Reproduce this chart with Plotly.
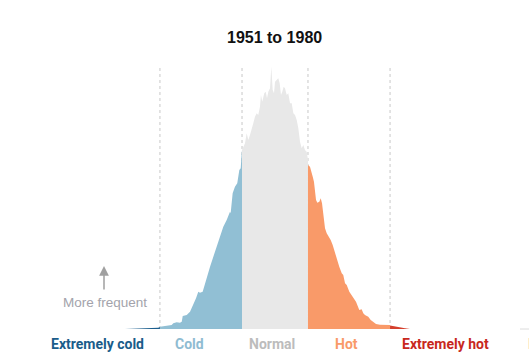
import plotly.graph_objects as go

# Temperature anomaly (in standard deviations) and frequency (arbitrary units)
anom_ext_cold = [-1.956, -1.803, -1.673, -1.587, -1.522, -1.5]
freq_ext_cold = [0, 0.3, 0.5, 1.0, 1.3, 2.0]

anom_cold = [-1.5, -1.412, -1.347, -1.326, -1.282, -1.239, -1.216, -1.203, -1.151, -1.108,
             -1.065, -1.030, -1.000, -0.978, -0.943, -0.913, -0.870, -0.847, -0.804, -0.760,
             -0.717, -0.674, -0.630, -0.609, -0.587, -0.578, -0.552, -0.522, -0.492, -0.465,
             -0.447, -0.434, -0.43]
freq_cold = [2.3, 3, 4, 5.7, 6.7, 6.3, 7.3, 13, 14, 17.3,
             24, 30.7, 37.3, 36.3, 37.3, 45.7, 57.3, 62.3, 72.3, 82.3,
             90.7, 102.3, 109, 114, 117.3, 115.7, 135.7, 142.3, 145.7, 159,
             160.7, 175.7, 179]

anom_normal = [-0.43, -0.391, -0.369, -0.348, -0.326, -0.304, -0.283, -0.261, -0.239, -0.218,
               -0.196, -0.183, -0.166, -0.140, -0.121, -0.104, -0.087, -0.065, -0.048, -0.030,
               -0.013, 0.0, 0.022, 0.043, 0.061, 0.078, 0.095, 0.113, 0.130, 0.153,
               0.173, 0.196, 0.218, 0.239, 0.261, 0.283, 0.304, 0.326, 0.348, 0.369,
               0.391, 0.413, 0.43]
freq_normal = [179, 185.7, 195.7, 189, 194, 199, 205.7, 212.3, 215.7, 214,
               222.3, 234, 227.3, 235.7, 237.3, 230.7, 237.3, 240.7, 262.3, 239,
               235.7, 247.3, 249.7, 250.7, 245.7, 234, 237.3, 242.3, 240.7, 234,
               235.7, 225.7, 225.7, 215.7, 214, 209, 200.7, 187.3, 180.7, 184,
               179, 177.3, 169]

anom_hot = [0.43, 0.456, 0.492, 0.508, 0.535, 0.552, 0.578, 0.596, 0.613, 0.639,
            0.652, 0.674, 0.695, 0.726, 0.752, 0.782, 0.812, 0.838, 0.870, 0.890,
            0.913, 0.935, 0.969, 1.000, 1.021, 1.056, 1.073, 1.099, 1.130, 1.151,
            1.173, 1.216, 1.248, 1.282, 1.317, 1.369, 1.434, 1.5]
freq_hot = [164, 162.3, 152.3, 147.3, 129, 126.3, 127.3, 130.7, 125.7, 112.3,
            100.7, 95.7, 93, 89, 84, 75.7, 69, 62.3, 55.7, 54,
            45.7, 44, 37.3, 34, 30.7, 27.3, 24, 19, 19.7, 15.7,
            14, 12.3, 9, 7.3, 5, 4.3, 4, 4]

anom_ext_hot = [1.5, 1.565, 1.630, 1.695, 1.760]
freq_ext_hot = [3.5, 2.5, 1.2, 0.8, 0]

boundaries = [-1.5, -0.43, 0.43, 1.5]
categories = ["Extremely cold", "Cold", "Normal", "Hot", "Extremely hot"]
title_text = "1951 to 1980"

fill_colors = ["#1d5f8e", "#91bfd4", "#e8e8e8", "#f99a69", "#d4402d"]
label_colors = ["#1a5c8a", "#8fbcd2", "#bcbcbc", "#f99a69", "#c8281d"]

fig = go.Figure()
series = [(anom_ext_cold, freq_ext_cold), (anom_cold, freq_cold), (anom_normal, freq_normal),
          (anom_hot, freq_hot), (anom_ext_hot, freq_ext_hot)]
for (xs, ys), c in zip(series, fill_colors):
    fig.add_trace(go.Scatter(x=xs, y=ys, mode="lines", line=dict(width=0, color=c),
                             fill="tozeroy", fillcolor=c, hoverinfo="skip", showlegend=False))

for b in boundaries:
    fig.add_shape(type="line", xref="x", yref="y", x0=b, x1=b, y0=0, y1=264,
                  line=dict(color="#c8c8c8", width=1, dash="dot"), layer="below")

# baseline stub of next panel
fig.add_shape(type="line", xref="paper", yref="y", x0=520/529, x1=1, y0=0, y1=0,
              line=dict(color="#dcdcdc", width=1))

W, H = 529, 363
label_x = [97, 189, 272, 346, 445]
for name, lx, col in zip(categories, label_x, label_colors):
    fig.add_annotation(text=name, xref="paper", yref="paper", x=lx / W, y=1 - 344 / H,
                       xanchor="center", yanchor="middle", showarrow=False,
                       font=dict(family="Roboto", size=14, color=col, weight="bold"))
# clipped next label
fig.add_annotation(text="Hot", xref="paper", yref="paper", x=526 / W, y=1 - 344 / H,
                   xanchor="left", yanchor="middle", showarrow=False,
                   font=dict(family="Roboto", size=14, color="#f9b48f", weight="bold"))

fig.add_annotation(text=title_text, xref="paper", yref="paper", x=274 / W, y=1 - 38 / H,
                   xanchor="center", yanchor="middle", showarrow=False,
                   font=dict(family="Liberation Sans", size=16, color="#111111", weight="bold"))

fig.add_annotation(text="More frequent", xref="paper", yref="paper", x=105 / W, y=1 - 302 / H,
                   xanchor="center", yanchor="middle", showarrow=False,
                   font=dict(family="Liberation Sans", size=13.5, color="#a3a3ab"))
fig.add_annotation(text="", xref="paper", yref="paper", x=104 / W, y=1 - 266 / H,
                   ax=0, ay=25, showarrow=True, arrowhead=2, arrowsize=1.3,
                   arrowwidth=1.5, arrowcolor="#a0a0a0")

fig.update_layout(width=W, height=H, margin=dict(l=0, r=0, t=0, b=0),
                  paper_bgcolor="white", plot_bgcolor="white",
                  xaxis=dict(visible=False, range=[-275 / 76.7, 254 / 76.7], fixedrange=True),
                  yaxis=dict(visible=False, range=[-34, 329], fixedrange=True))

fig.write_html("out.html", config={"displayModeBar": False, "staticPlot": True},
               post_script="document.body.style.margin='0';document.body.style.overflow='hidden';")
